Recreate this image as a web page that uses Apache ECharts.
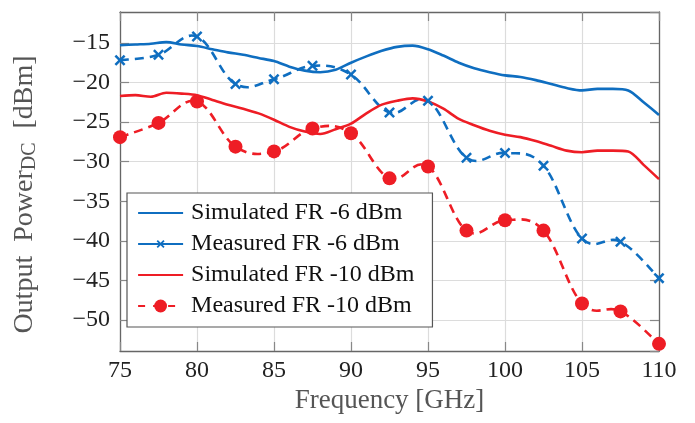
<!DOCTYPE html>
<html>
<head>
<meta charset="utf-8">
<script src="https://cdn.jsdelivr.net/npm/echarts@6/dist/echarts.min.js"></script>
<style>
html,body{margin:0;padding:0;background:#fff;}
#chart{width:695px;height:423px;}
</style>
</head>
<body>
<div id="chart"></div>
<script>
// ---- data ----
var measFreq = [75, 77.5, 80, 82.5, 85, 87.5, 90, 92.5, 95, 97.5, 100, 102.5, 105, 107.5, 110];
var meas6 = [-17.2, -16.5, -14.2, -20.2, -19.6, -17.9, -19.0, -23.8, -22.3, -29.5, -28.9, -30.5, -39.7, -40.1, -44.7];
var meas10 = [-26.9, -25.1, -22.4, -28.1, -28.7, -25.8, -26.4, -32.1, -30.6, -38.7, -37.4, -38.7, -47.9, -48.9, -53.0];
var simFreq = [75, 76, 77, 78, 79, 80, 81, 82, 83, 84, 85, 86, 87, 88, 89, 90, 91, 92,
               93, 94, 95, 96, 97, 98, 99, 100, 101, 102, 103, 104, 105, 106, 107, 108, 109, 110];
var sim6 = [-15.3, -15.2, -15.1, -14.9, -15.2, -15.4, -15.8, -16.2, -16.5, -16.9, -17.3, -18.0,
            -18.5, -18.7, -18.4, -17.5, -16.7, -16.0, -15.5, -15.35, -15.8, -16.6, -17.5, -18.2,
            -18.7, -19.1, -19.3, -19.7, -20.2, -20.7, -21.0, -20.8, -20.8, -21.0, -22.5, -24.1];
var sim10 = [-21.7, -21.6, -21.8, -21.3, -21.4, -21.6, -22.2, -22.8, -23.3, -23.9, -24.7, -25.6,
             -26.2, -26.5, -25.9, -25.2, -23.9, -22.8, -22.3, -22.0, -22.4, -23.3, -24.6, -25.4,
             -26.1, -26.6, -26.9, -27.4, -28.0, -28.6, -28.8, -28.6, -28.6, -28.7, -30.4, -32.2];
var seriesNames = ['Simulated FR -6 dBm', 'Measured FR -6 dBm', 'Simulated FR -10 dBm', 'Measured FR -10 dBm'];

function pairs(xs, ys) { return xs.map(function (x, i) { return [x, ys[i]]; }); }

var BLUE = '#0F6EC0';
var RED = '#EE1D25';
var FONT = '"Liberation Serif", "DejaVu Serif", serif';
// cross marker with an empty margin (degenerate corner sub-paths) so the legend copy stays small
var crossPath = 'path://M-3,-3L-3,-3M13,13L13,13' +
  'M0,1.6L1.6,0L5,3.4L8.4,0L10,1.6L6.6,5L10,8.4L8.4,10L5,6.6L1.6,10L0,8.4L3.4,5Z';
function minusFmt(v) { return String(v).replace('-', '\u2212'); }

// smooth curve (cardinal spline, like a LaTeX "smooth" plot) through the data points,
// positioned via the chart's own coordinate system
function splineSeries(xs, ys, color) {
  var K = 0.19;
  return {
    type: 'custom', coordinateSystem: 'cartesian2d', xAxisIndex: 0, yAxisIndex: 0,
    silent: true, z: 2,
    data: pairs(xs, ys),
    encode: { x: 0, y: 1 },
    renderItem: function (params, api) {
      if (params.dataIndex !== 0) return null;
      var P = xs.map(function (x, i) { return api.coord([x, ys[i]]); });
      var n = P.length;
      var d = 'M' + P[0][0] + ',' + P[0][1];
      for (var i = 0; i < n - 1; i++) {
        var p0 = P[Math.max(i - 1, 0)], p1 = P[i], p2 = P[i + 1], p3 = P[Math.min(i + 2, n - 1)];
        var c1x = p1[0] + (p2[0] - p0[0]) * K, c1y = p1[1] + (p2[1] - p0[1]) * K;
        var c2x = p2[0] - (p3[0] - p1[0]) * K, c2y = p2[1] - (p3[1] - p1[1]) * K;
        d += 'C' + c1x + ',' + c1y + ',' + c2x + ',' + c2y + ',' + p2[0] + ',' + p2[1];
      }
      return {
        type: 'path',
        shape: { pathData: d },
        style: { fill: 'none', stroke: color, lineWidth: 2.6, lineDash: [9, 6] }
      };
    }
  };
}

var frameColor = '#666';
var tickStyle = { show: true, inside: true, length: 9, lineStyle: { color: '#888', width: 1.2 } };

var chart = echarts.init(document.getElementById('chart'), null, { renderer: 'canvas' });
chart.setOption({
  animation: false,
  backgroundColor: '#fff',
  grid: { left: 120, right: 36, top: 12, bottom: 72, containLabel: false },
  xAxis: [{
    type: 'value', min: 75, max: 110, interval: 5, position: 'bottom',
    name: 'Frequency [GHz]', nameLocation: 'middle', nameGap: 36,
    nameTextStyle: { fontFamily: FONT, fontSize: 27, color: '#555' },
    axisLine: { show: true, lineStyle: { color: frameColor, width: 1.3 } },
    axisTick: tickStyle,
    axisLabel: { fontFamily: FONT, fontSize: 24, color: '#222', margin: 8 },
    splitLine: { show: true, lineStyle: { color: '#dcdcdc', width: 1.2 } }
  }, {
    type: 'value', min: 75, max: 110, interval: 5, position: 'top',
    axisLine: { show: true, onZero: false, lineStyle: { color: frameColor, width: 1.3 } },
    axisTick: tickStyle, axisLabel: { show: false }, splitLine: { show: false }
  }],
  yAxis: [{
    type: 'value', min: -53.9, max: -11.1, minInterval: 5, maxInterval: 5, splitNumber: 8, position: 'left',
    name: 'Output\u2002Power{sub|DC}\u2002[dBm]', nameLocation: 'middle', nameGap: 80, nameRotate: 90,
    nameTextStyle: { fontFamily: FONT, fontSize: 28, color: '#555', padding: [0, 26, 0, 0],
      rich: { sub: { fontFamily: FONT, fontSize: 20, color: '#555', verticalAlign: 'bottom', padding: [10, 0, 0, 0] } } },
    axisLine: { show: true, onZero: false, lineStyle: { color: frameColor, width: 1.3 } },
    axisTick: tickStyle,
    axisLabel: { fontFamily: FONT, fontSize: 24, color: '#222', margin: 10, formatter: minusFmt,
      showMinLabel: false, showMaxLabel: false },
    splitLine: { show: true, lineStyle: { color: '#dcdcdc', width: 1.2 } }
  }, {
    type: 'value', min: -53.9, max: -11.1, minInterval: 5, maxInterval: 5, splitNumber: 8, position: 'right',
    axisLine: { show: true, onZero: false, lineStyle: { color: frameColor, width: 1.3 } },
    axisTick: tickStyle, axisLabel: { show: false }, splitLine: { show: false }
  }],
  legend: {
    orient: 'vertical', left: 127, top: 193,
    padding: [8, 18, 9, 10],
    itemGap: 7, itemWidth: 45, itemHeight: 16,
    backgroundColor: '#fff', borderColor: '#555', borderWidth: 1.2, borderRadius: 0,
    textStyle: { fontFamily: FONT, fontSize: 24, color: '#111', padding: [0, 0, 0, 3] },
    data: [
      { name: seriesNames[0], itemStyle: { opacity: 0 }, lineStyle: { width: 2.2 } },
      { name: seriesNames[1], lineStyle: { type: 'solid', opacity: 1, width: 2.2 } },
      { name: seriesNames[2], itemStyle: { opacity: 0 }, lineStyle: { width: 2.2 } },
      { name: seriesNames[3], lineStyle: { type: [7, 8], opacity: 1, width: 2.2 } }
    ]
  },
  series: [
    splineSeries(measFreq, meas6, BLUE),
    splineSeries(measFreq, meas10, RED),
  {
    name: seriesNames[0], type: 'line', data: pairs(simFreq, sim6), smooth: 0.3,
    showSymbol: false, symbol: 'none', z: 3,
    lineStyle: { color: BLUE, width: 2.6 }, itemStyle: { color: BLUE }
  }, {
    name: seriesNames[1], type: 'line', data: pairs(measFreq, meas6), z: 4,
    symbol: crossPath, symbolSize: 17.6,
    lineStyle: { color: BLUE, width: 2.6, opacity: 0 }, itemStyle: { color: BLUE }
  }, {
    name: seriesNames[2], type: 'line', data: pairs(simFreq, sim10), smooth: 0.3,
    showSymbol: false, symbol: 'none', z: 3,
    lineStyle: { color: RED, width: 2.6 }, itemStyle: { color: RED }
  }, {
    name: seriesNames[3], type: 'line', data: pairs(measFreq, meas10), z: 4,
    symbol: 'circle', symbolSize: 14,
    lineStyle: { color: RED, width: 2.6, type: [9, 6], opacity: 0 }, itemStyle: { color: RED }
  }]
});
</script>
</body>
</html>
